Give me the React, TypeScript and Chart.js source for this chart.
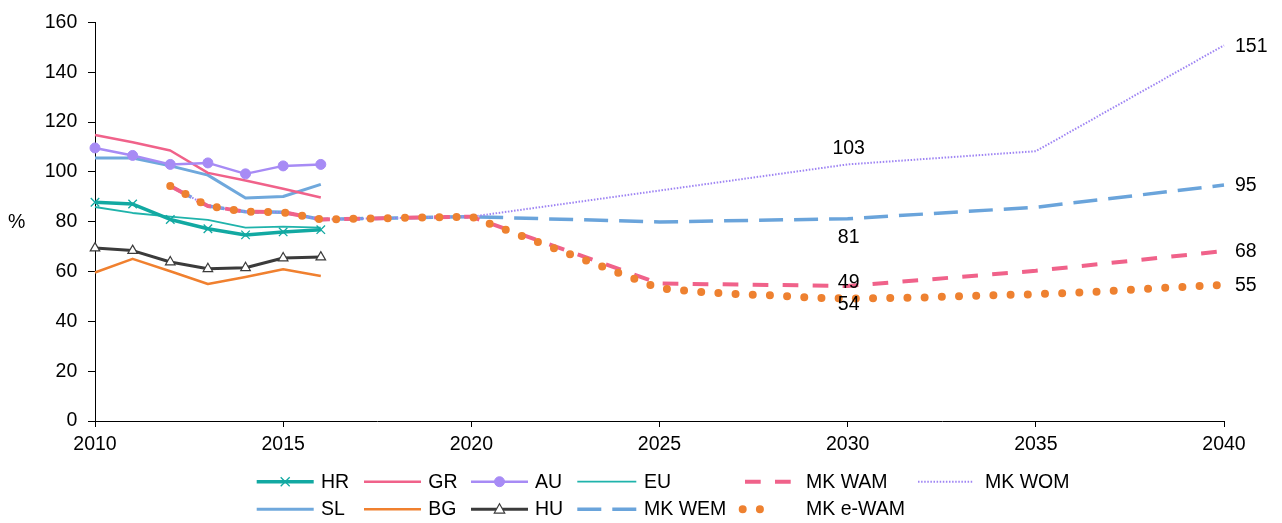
import React, { useEffect, useRef } from 'react';
import { Chart, registerables } from 'chart.js';

Chart.register(...registerables);

// ---------- data ----------
const HIST_YEARS = [2010, 2011, 2012, 2013, 2014, 2015, 2016];
const HR = [87.8, 87.1, 80.9, 77.2, 74.7, 75.9, 76.8];
const GR = [114.8, 111.9, 108.6, 99.6, 96.5, 93.2, 89.7];
const AU = [109.6, 106.6, 103.0, 103.6, 99.2, 102.4, 103.0];
const EU = [85.9, 83.5, 82.0, 80.7, 77.6, 78.0, 77.6];
const SL = [105.6, 105.6, 102.4, 98.7, 89.5, 90.1, 95.0];
const BG = [59.6, 65.1, 60.1, 55.0, 57.8, 60.9, 58.2];
const HU = [69.4, 68.4, 63.8, 61.1, 61.5, 65.4, 65.8];

const MK_HIST_YEARS = [2012, 2013, 2014, 2015, 2016, 2017, 2018, 2019, 2020];
const MK_HIST = [94.3, 86.3, 84.0, 83.8, 80.9, 81.2, 81.5, 81.8, 82.0];

const WEM_YEARS = [2025, 2030, 2035, 2040];
const WEM = [79.9, 81.2, 85.8, 94.7];

const WAM_YEARS = [2025, 2030, 2035, 2040];
const WAM = [55.2, 54.2, 60.3, 68.2];

const WOM_YEARS = [2030, 2035, 2040];
const WOM = [103.0, 108.3, 150.8];

const EWAM_YEARS = [2025, 2026, 2027, 2028, 2029, 2030, 2031, 2032, 2033, 2034, 2035, 2036, 2037, 2038, 2039, 2040];
const EWAM = [53.2, 51.9, 51.0, 50.4, 49.5, 49.2, 49.3, 49.6, 50.1, 50.5, 50.9, 51.5, 52.2, 53.1, 53.9, 54.6];

const X_MIN = 2010;
const X_MAX = 2040;
const X_STEP = 5;
const Y_MIN = 0;
const Y_MAX = 160;
const Y_STEP = 20;
const Y_TITLE = '%';

// labels drawn next to selected points: [series, year, placement]
const POINT_LABELS: [string, number, string][] = [
  ['MK WOM', 2030, 'above'],
  ['MK WEM', 2030, 'below'],
  ['MK WAM', 2030, 'below'],
  ['MK e-WAM', 2030, 'above'],
  ['MK WOM', 2040, 'right'],
  ['MK WEM', 2040, 'right'],
  ['MK WAM', 2040, 'right'],
  ['MK e-WAM', 2040, 'right'],
];

// ---------- style ----------
const FONT_FAMILY = "'Liberation Sans', Arial, sans-serif";
const FONT_SIZE = 19.5;
const FONT = `${FONT_SIZE}px ${FONT_FAMILY}`;

const pts = (xs: number[], ys: number[]) => xs.map((x, i) => ({ x, y: ys[i] }));

// legend layout (row, sample start, sample length, text x)
const LEGEND_ROW_Y = [481.7, 509.2];
const LEGEND_LAYOUT: Record<string, { row: number; sx: number; sw: number; tx: number }> = {
  'HR': { row: 0, sx: 256.7, sw: 57, tx: 321 },
  'GR': { row: 0, sx: 364, sw: 57, tx: 428.3 },
  'AU': { row: 0, sx: 471, sw: 57, tx: 535 },
  'EU': { row: 0, sx: 577.3, sw: 59, tx: 644 },
  'MK WAM': { row: 0, sx: 745, sw: 45.7, tx: 806 },
  'MK WOM': { row: 0, sx: 918, sw: 55, tx: 985 },
  'SL': { row: 1, sx: 256.7, sw: 57, tx: 321 },
  'BG': { row: 1, sx: 364, sw: 57, tx: 428.3 },
  'HU': { row: 1, sx: 471, sw: 57, tx: 535 },
  'MK WEM': { row: 1, sx: 577.3, sw: 59, tx: 644 },
  'MK e-WAM': { row: 1, sx: 742.7, sw: 34.4, tx: 806 },
};

function drawMarker(ctx: CanvasRenderingContext2D, style: string, x: number, y: number, r: number, fill: string, stroke: string, bw: number) {
  ctx.save();
  ctx.setLineDash([]);
  ctx.lineWidth = bw;
  ctx.fillStyle = fill;
  ctx.strokeStyle = stroke;
  ctx.beginPath();
  if (style === 'circle') {
    ctx.arc(x, y, r, 0, Math.PI * 2);
    ctx.fill();
    ctx.stroke();
  } else if (style === 'triangle') {
    ctx.moveTo(x, y - r);
    ctx.lineTo(x + r * 0.95, y + r * 0.7);
    ctx.lineTo(x - r * 0.95, y + r * 0.7);
    ctx.closePath();
    ctx.fill();
    ctx.stroke();
  } else if (style === 'crossRot') {
    const d = r * 0.75;
    ctx.moveTo(x - d, y - d);
    ctx.lineTo(x + d, y + d);
    ctx.moveTo(x + d, y - d);
    ctx.lineTo(x - d, y + d);
    ctx.stroke();
  }
  ctx.restore();
}

const legendPlugin = {
  id: 'gridLegend',
  afterDraw(chart: any) {
    const ctx: CanvasRenderingContext2D = chart.ctx;
    ctx.save();
    chart.data.datasets.forEach((ds: any) => {
      const item = LEGEND_LAYOUT[ds.label];
      if (!item) return;
      const y = LEGEND_ROW_Y[item.row];
      ctx.beginPath();
      ctx.setLineDash(ds.borderDash || []);
      ctx.lineCap = ds.borderCapStyle || 'butt';
      ctx.strokeStyle = ds.borderColor;
      ctx.lineWidth = ds.borderWidth;
      ctx.moveTo(item.sx, y);
      ctx.lineTo(item.sx + item.sw, y);
      ctx.stroke();
      ctx.setLineDash([]);
      if (ds.pointRadius > 0) {
        drawMarker(ctx, ds.pointStyle, item.sx + item.sw / 2, y, ds.pointRadius, ds.pointBackgroundColor, ds.pointBorderColor, ds.pointBorderWidth);
      }
      ctx.fillStyle = '#000';
      ctx.font = FONT;
      ctx.textAlign = 'left';
      ctx.textBaseline = 'middle';
      ctx.fillText(ds.label, item.tx, y + 0.5);
    });
    ctx.restore();
  },
};

const labelsPlugin = {
  id: 'pointLabels',
  afterDatasetsDraw(chart: any) {
    const ctx: CanvasRenderingContext2D = chart.ctx;
    const xs = chart.scales.x;
    const ys = chart.scales.y;
    ctx.save();
    ctx.font = FONT;
    ctx.fillStyle = '#000';
    ctx.textBaseline = 'middle';
    POINT_LABELS.forEach(([name, year, pos]) => {
      const ds = chart.data.datasets.find((d: any) => d.label === name);
      if (!ds) return;
      const p = ds.data.find((d: any) => d.x === year);
      if (!p) return;
      const px = xs.getPixelForValue(p.x);
      const py = ys.getPixelForValue(p.y);
      const text = String(Math.round(p.y));
      if (pos === 'right') {
        ctx.textAlign = 'left';
        ctx.fillText(text, px + 11, py + 1);
      } else if (pos === 'above') {
        ctx.textAlign = 'center';
        ctx.fillText(text, px + 1, py - 15.5);
      } else {
        ctx.textAlign = 'center';
        ctx.fillText(text, px + 1, py + 19);
      }
    });
    // vertical axis title, horizontal text
    ctx.textAlign = 'center';
    ctx.fillText(Y_TITLE, 16.7, (chart.chartArea.top + chart.chartArea.bottom) / 2 + 1);
    ctx.restore();
  },
};

const line = (label: string, data: any[], color: string, width: number, extra: any = {}) => ({
  label,
  data,
  borderColor: color,
  backgroundColor: color,
  borderWidth: width,
  pointRadius: 0,
  pointHoverRadius: 0,
  tension: 0,
  fill: false,
  clip: false,
  borderCapStyle: 'butt',
  borderJoinStyle: 'round',
  ...extra,
});

export default function App() {
  const ref = useRef<HTMLCanvasElement>(null);

  useEffect(() => {
    if (!ref.current) return;
    const mk = pts(MK_HIST_YEARS, MK_HIST);
    const datasets: any[] = [
      line('MK e-WAM', [...mk, ...pts(EWAM_YEARS, EWAM)], '#EE8130', 8, { borderDash: [0, 17.2], borderCapStyle: 'round' }),
      line('MK WAM', [...mk, ...pts(WAM_YEARS, WAM)], '#F0628A', 4, { borderDash: [15.7, 14.3] }),
      line('MK WOM', [...mk, ...pts(WOM_YEARS, WOM)], '#9E84F3', 2, { borderDash: [1.5, 1.6] }),
      line('MK WEM', [...mk, ...pts(WEM_YEARS, WEM)], '#6AA4DB', 3.5, { borderDash: [24, 11] }),
      line('HU', pts(HIST_YEARS, HU), '#3B3B3B', 3, {
        pointRadius: 5.5, pointStyle: 'triangle', pointBackgroundColor: '#FFFFFF', pointBorderColor: '#3B3B3B', pointBorderWidth: 1.2,
      }),
      line('HR', pts(HIST_YEARS, HR), '#12A9A2', 3.5, {
        pointRadius: 6, pointStyle: 'crossRot', pointBackgroundColor: '#12A9A2', pointBorderColor: '#12A9A2', pointBorderWidth: 1.3,
      }),
      line('AU', pts(HIST_YEARS, AU), '#A78BF5', 2.5, {
        pointRadius: 5, pointStyle: 'circle', pointBackgroundColor: '#A78BF5', pointBorderColor: '#A78BF5', pointBorderWidth: 1,
      }),
      line('EU', pts(HIST_YEARS, EU), '#1FB3AB', 1.8),
      line('GR', pts(HIST_YEARS, GR), '#F0628A', 2.5),
      line('SL', pts(HIST_YEARS, SL), '#6FA8DC', 3),
      line('BG', pts(HIST_YEARS, BG), '#F0802F', 2.5),
    ];

    Chart.defaults.font.family = FONT_FAMILY;
    Chart.defaults.font.size = FONT_SIZE;
    Chart.defaults.color = '#000';

    const chart = new Chart(ref.current, {
      type: 'line',
      data: { datasets },
      options: {
        animation: false,
        responsive: true,
        maintainAspectRatio: false,
        devicePixelRatio: 1,
        events: [],
        layout: { padding: { top: 17, right: 58, bottom: 0, left: 0 } },
        plugins: {
          legend: { display: false },
          tooltip: { enabled: false },
          title: { display: false },
        },
        scales: {
          x: {
            type: 'linear',
            min: X_MIN,
            max: X_MAX,
            ticks: {
              stepSize: X_STEP,
              autoSkip: false,
              maxRotation: 0,
              padding: 6,
              color: '#000',
              font: { family: FONT_FAMILY, size: FONT_SIZE },
              callback: (v: any) => String(v),
            },
            grid: { drawOnChartArea: false, drawTicks: true, tickLength: 6, color: '#000', lineWidth: 1 },
            border: { display: true, color: '#000', width: 1 },
            afterFit: (s: any) => { s.height = 102; },
          },
          y: {
            type: 'linear',
            min: Y_MIN,
            max: Y_MAX,
            ticks: {
              stepSize: Y_STEP,
              padding: 10.7,
              color: '#000',
              font: { family: FONT_FAMILY, size: FONT_SIZE },
              callback: (v: any) => String(v),
            },
            grid: { drawOnChartArea: false, drawTicks: true, tickLength: 7, color: '#000', lineWidth: 1 },
            border: { display: true, color: '#000', width: 1 },
            afterFit: (s: any) => { s.width = 95; },
          },
        },
      } as any,
      plugins: [legendPlugin, labelsPlugin],
    });

    return () => chart.destroy();
  }, []);

  return (
    <div style={{ position: 'absolute', left: 0, top: 0, width: 1282, height: 523, background: '#fff' }}>
      <canvas ref={ref} />
    </div>
  );
}
